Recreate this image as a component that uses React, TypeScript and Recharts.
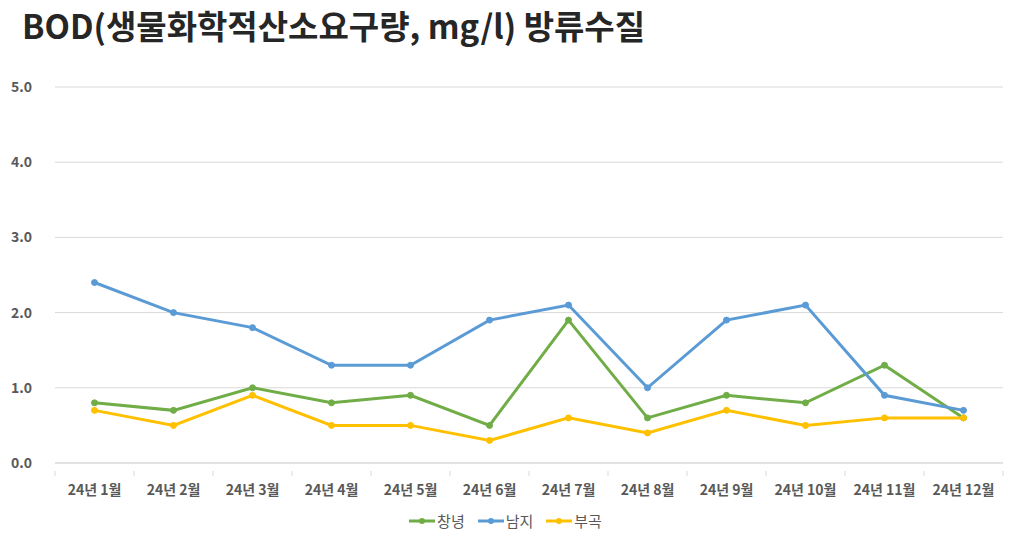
import React from "react";
import { LineChart, Line, XAxis, YAxis, CartesianGrid } from "recharts";

const months = ["24년 1월", "24년 2월", "24년 3월", "24년 4월", "24년 5월", "24년 6월", "24년 7월", "24년 8월", "24년 9월", "24년 10월", "24년 11월", "24년 12월"];
const changnyeong = [0.8, 0.7, 1.0, 0.8, 0.9, 0.5, 1.9, 0.6, 0.9, 0.8, 1.3, 0.6];
const namji = [2.4, 2.0, 1.8, 1.3, 1.3, 1.9, 2.1, 1.0, 1.9, 2.1, 0.9, 0.7];
const bugok = [0.7, 0.5, 0.9, 0.5, 0.5, 0.3, 0.6, 0.4, 0.7, 0.5, 0.6, 0.6];
const yTicks = [0, 1, 2, 3, 4, 5];
const seriesNames = ["창녕", "남지", "부곡"];
const title = "BOD(생물화학적산소요구량, mg/l) 방류수질";

const data = months.map((m, i) => ({
  month: m,
  창녕: changnyeong[i],
  남지: namji[i],
  부곡: bugok[i],
}));

const W = 1010;
const H = 538;
const X_H = 30;
const M = { top: 87, right: 7, left: 0, bottom: 75 - X_H };
const Y_W = 55;
const plotW = W - M.left - M.right - Y_W;
const band = plotW / months.length;
const colors = ["#70ad47", "#5b9bd5", "#ffc000"];
const FONT = "'Noto Sans CJK KR', 'Noto Sans', sans-serif";

const XTick = (props: any) => {
  const { x, y, payload, index } = props;
  const left = x - band / 2;
  return (
    <g>
      <line x1={left} y1={y} x2={left} y2={y + 5} stroke="#d9d9d9" />
      {index === months.length - 1 && (
        <line x1={x + band / 2} y1={y} x2={x + band / 2} y2={y + 5} stroke="#d9d9d9" />
      )}
      <text x={x} y={y + 20} textAnchor="middle" dominantBaseline="middle" fill="#595959" fontSize={14} fontWeight="bold" fontFamily={FONT}>
        {payload.value}
      </text>
    </g>
  );
};

export default function App() {
  return (
    <div style={{ position: "absolute", left: 0, top: 0, width: W, height: H, background: "#fff" }}>
      <div style={{ position: "absolute", left: 22, top: 1, fontFamily: FONT, fontWeight: "bold", fontSize: 33, color: "#262626", whiteSpace: "nowrap" }}>
        {title}
      </div>
      <LineChart width={W} height={H} data={data} margin={M}>
        <CartesianGrid vertical={false} stroke="#d9d9d9" />
        <XAxis
          dataKey="month"
          height={X_H}
          tick={<XTick />}
          tickLine={false}
          axisLine={{ stroke: "#d9d9d9" }}
          interval={0}
          padding={{ left: band / 2, right: band / 2 }}
        />
        <YAxis
          width={Y_W}
          domain={[0, 5]}
          ticks={yTicks}
          tickFormatter={(v: number) => v.toFixed(1)}
          axisLine={false}
          tickLine={false}
          tickSize={0}
          tickMargin={23}
          tick={{ fill: "#595959", fontSize: 14, fontWeight: "bold", fontFamily: FONT }}
        />
        {seriesNames.map((n, i) => (
          <Line
            key={n}
            dataKey={n}
            stroke={colors[i]}
            strokeWidth={3}
            dot={{ r: 3, fill: colors[i], stroke: colors[i], strokeWidth: 1 }}
            isAnimationActive={false}
          />
        ))}
      </LineChart>
      <div style={{ position: "absolute", left: 0, width: W, top: 510, display: "flex", justifyContent: "center", gap: 12, fontFamily: FONT, fontSize: 15, color: "#595959" }}>
        {seriesNames.map((n, i) => (
          <div key={n} style={{ display: "flex", alignItems: "center", gap: 1 }}>
            <svg width={28} height={10}>
              <line x1={1} y1={5} x2={27} y2={5} stroke={colors[i]} strokeWidth={3} />
              <circle cx={14} cy={5} r={3} fill={colors[i]} />
            </svg>
            <span>{n}</span>
          </div>
        ))}
      </div>
    </div>
  );
}
